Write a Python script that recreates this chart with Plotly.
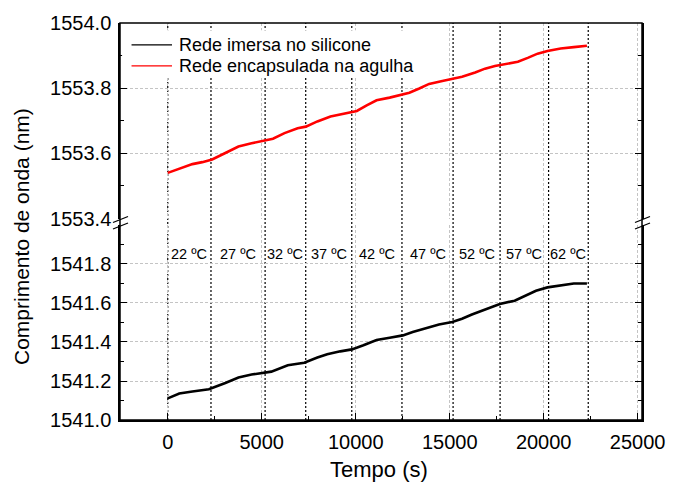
import plotly.graph_objects as go

# Bragg wavelength shift of the two gratings during the heating run
t_silicone = [0, 614, 1312, 2188, 3064, 3762, 4460, 5163, 5510, 6386,
              7262, 7960, 8484, 9182, 9797, 10410, 11109, 11806, 12509, 13033,
              13731, 14429, 15132, 15657, 16181, 16880, 17667, 18454, 18804, 19591,
              20201, 20904, 21602, 22300]
wl_silicone = [1541.111, 1541.136, 1541.146, 1541.158, 1541.190, 1541.218, 1541.233, 1541.243, 1541.248, 1541.281,
               1541.294, 1541.320, 1541.337, 1541.352, 1541.362, 1541.383, 1541.410, 1541.422, 1541.434, 1541.451,
               1541.471, 1541.490, 1541.502, 1541.519, 1541.541, 1541.565, 1541.595, 1541.612, 1541.629, 1541.663,
               1541.680, 1541.690, 1541.700, 1541.700]

t_needle = [0, 614, 1312, 1836, 2361, 3064, 3762, 4460, 5163, 5598,
            6212, 6910, 7346, 7960, 8658, 9360, 9797, 10060, 10584, 11109,
            11806, 12420, 12855, 13380, 13905, 14607, 15132, 15657, 16355, 16880,
            17404, 17667, 18627, 19152, 19676, 20201, 20904, 21602, 22300]
wl_needle = [1553.540, 1553.553, 1553.567, 1553.573, 1553.581, 1553.601, 1553.621, 1553.631, 1553.639, 1553.645,
             1553.662, 1553.677, 1553.682, 1553.698, 1553.713, 1553.722, 1553.726, 1553.730, 1553.747, 1553.763,
             1553.771, 1553.779, 1553.786, 1553.799, 1553.813, 1553.822, 1553.828, 1553.835, 1553.848, 1553.860,
             1553.868, 1553.871, 1553.881, 1553.893, 1553.906, 1553.914, 1553.922, 1553.926, 1553.930]

# temperature steps: start time of each plateau and its set point
stage_start = [0, 2300, 5180, 7340, 9790, 12460, 15180, 17680, 20260, 22370]
stage_labels = ["22 ºC", "27 ºC", "32 ºC", "37 ºC", "42 ºC", "47 ºC", "52 ºC", "57 ºC", "62 ºC"]

series_names = ["Rede imersa no silicone", "Rede encapsulada na agulha"]
series_colors = ["black", "red"]

x_ticks = [0, 5000, 10000, 15000, 20000, 25000]
x_minor = [2500, 7500, 12500, 17500, 22500]
y_low_ticks = [1541.0, 1541.2, 1541.4, 1541.6, 1541.8]
y_low_minor = [1541.1, 1541.3, 1541.5, 1541.7, 1541.9]
y_high_ticks = [1553.4, 1553.6, 1553.8, 1554.0]
y_high_minor = [1553.5, 1553.7, 1553.9]

FONT = "Liberation Sans, Arial, sans-serif"
GRID = "#c4c4c4"

fig = go.Figure()
fig.add_trace(go.Scatter(x=t_silicone, y=wl_silicone, mode="lines", name=series_names[0],
                         line=dict(color=series_colors[0], width=2.6),
                         xaxis="x", yaxis="y", showlegend=False))
fig.add_trace(go.Scatter(x=t_needle, y=wl_needle, mode="lines", name=series_names[1],
                         line=dict(color=series_colors[1], width=2.6),
                         xaxis="x", yaxis="y2", showlegend=False))

axis_common = dict(
    ticks="inside", ticklen=7, tickwidth=1, tickcolor="black",
    showline=True, linewidth=1.5, linecolor="black",
    zeroline=False, tickfont=dict(family=FONT, size=20, color="black"),
)

x_range = [-2540, 25230]
fig.update_layout(
    width=677, height=486,
    margin=dict(l=120, r=28, t=21, b=66),
    paper_bgcolor="white", plot_bgcolor="white",
    font=dict(family=FONT, color="black"),
    showlegend=False,
    xaxis=dict(
        range=x_range, domain=[0, 1], anchor="y",
        tickmode="array", tickvals=x_ticks, ticktext=[str(v) for v in x_ticks],
        minor=dict(tickmode="array", tickvals=x_minor, ticks="inside", ticklen=4,
                   tickcolor="black", showgrid=False),
        showgrid=True, gridcolor=GRID, gridwidth=1, griddash="3px,2px",
        ticklabelstandoff=3,
        **axis_common,
    ),
    xaxis2=dict(
        range=x_range, domain=[0, 1], anchor="y2", side="top", matches="x",
        tickmode="array", tickvals=x_ticks, showticklabels=False,
        minor=dict(tickmode="array", tickvals=x_minor, ticks="inside", ticklen=4,
                   tickcolor="black", showgrid=False),
        showgrid=False,
        **axis_common,
    ),
    yaxis=dict(
        range=[1541.0, 1542.0], domain=[0, 0.4912], anchor="x",
        tickmode="array", tickvals=y_low_ticks, ticktext=[f"{v:.1f}" for v in y_low_ticks],
        minor=dict(tickmode="array", tickvals=y_low_minor, ticks="inside", ticklen=4,
                   tickcolor="black", showgrid=False),
        showgrid=True, gridcolor=GRID, gridwidth=1, griddash="3px,2px",
        mirror="allticks", ticklabelstandoff=3,
        **axis_common,
    ),
    yaxis2=dict(
        range=[1553.4, 1554.0], domain=[0.5075, 1], anchor="x",
        tickmode="array", tickvals=y_high_ticks, ticktext=[f"{v:.1f}" for v in y_high_ticks],
        minor=dict(tickmode="array", tickvals=y_high_minor, ticks="inside", ticklen=4,
                   tickcolor="black", showgrid=False),
        showgrid=True, gridcolor=GRID, gridwidth=1, griddash="3px,2px",
        mirror="allticks", ticklabelstandoff=3,
        **axis_common,
    ),
)

# dotted markers at every temperature change
for t in stage_start:
    fig.add_shape(type="line", xref="x", yref="paper", x0=t, x1=t, y0=0, y1=1,
                  line=dict(color="black", width=1.2, dash="2px,2px"), layer="below")

# temperature set points, centred in each plateau
for i, lab in enumerate(stage_labels):
    xc = (stage_start[i] + stage_start[i + 1]) / 2
    fig.add_annotation(x=xc, y=1541.852, xref="x", yref="y", text=lab, showarrow=False,
                       xanchor="center", yanchor="middle",
                       font=dict(family=FONT, size=14.5, color="black"))

# outer frame
fig.add_shape(type="rect", xref="paper", yref="paper", x0=0, x1=1, y0=0, y1=1,
              line=dict(color="black", width=1.5), layer="above")

# axis-break marks on both sides
for xa in (0, 1):
    for dy in (0.5, -6.0):
        fig.add_shape(type="line", xref="paper", yref="paper",
                      xsizemode="pixel", ysizemode="pixel", xanchor=xa, yanchor=0.4962,
                      x0=-7, x1=8, y0=dy, y1=dy + 6,
                      line=dict(color="black", width=1.3), layer="above")

# key box in the upper-left corner
fig.add_shape(type="rect", xref="paper", yref="paper", x0=0.004, x1=0.552, y0=0.862, y1=0.982,
              fillcolor="white", line=dict(width=0), layer="above")
key_rows = [0.9449, 0.8922]
for name, color, yk in zip(series_names, series_colors, key_rows):
    fig.add_shape(type="line", xref="paper", yref="paper", x0=0.0221, x1=0.0996, y0=yk, y1=yk,
                  line=dict(color=color, width=1.3), layer="above")
    fig.add_annotation(text=name, xref="paper", yref="paper", x=0.1096, y=yk,
                       xanchor="left", yanchor="middle", showarrow=False,
                       font=dict(family=FONT, size=18, color="black"))

# axis titles
fig.add_annotation(text="Comprimento de onda (nm)", xref="paper", yref="paper",
                   x=0, y=0.461, xshift=-98, textangle=-90, showarrow=False,
                   xanchor="center", yanchor="middle",
                   font=dict(family=FONT, size=21, color="black"))
fig.add_annotation(text="Tempo (s)", xref="paper", yref="paper",
                   x=0.496, y=-0.125, showarrow=False,
                   xanchor="center", yanchor="middle",
                   font=dict(family=FONT, size=22, color="black"))

fig.write_html("out.html")
